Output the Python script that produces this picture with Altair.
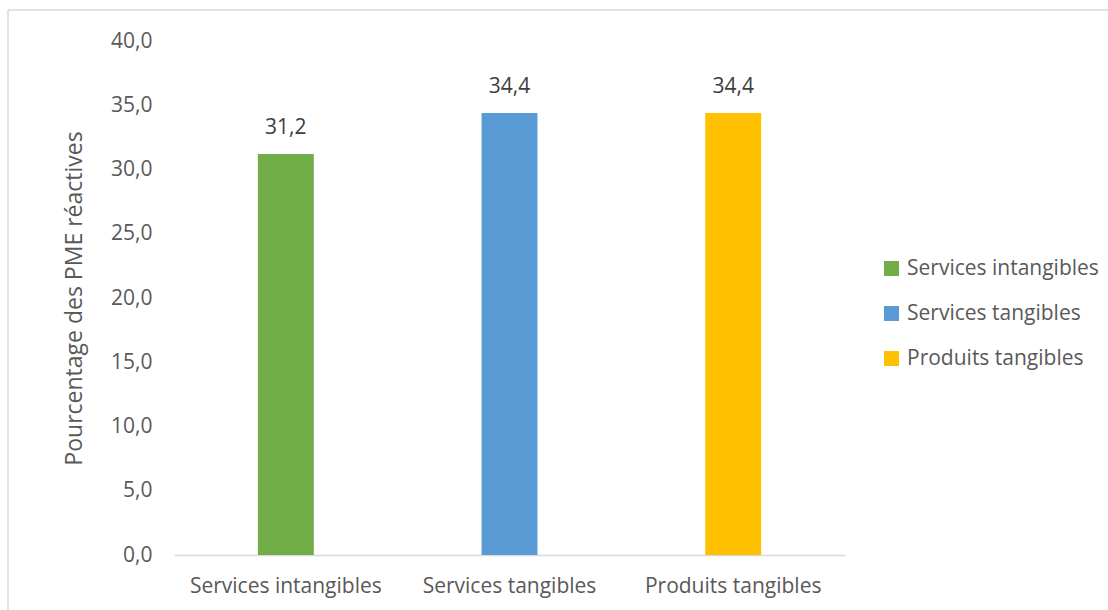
import altair as alt
import pandas as pd

categories = ["Services intangibles", "Services tangibles", "Produits tangibles"]
values = [31.2, 34.4, 34.4]
colors = ["#70AD47", "#5B9BD5", "#FFC000"]
y_ticks = [0, 5, 10, 15, 20, 25, 30, 35, 40]

df = pd.DataFrame({"cat": categories, "val": values})

FONT = "Open Sans"
TXT = "#595959"
FS = 21

x_enc = alt.X("cat:N", sort=categories, title=None,
              scale=alt.Scale(paddingInner=0.75, paddingOuter=0.375),
              axis=alt.Axis(labelAngle=0, ticks=False, domainColor="#D9D9D9", domainWidth=1.5,
                            labelPadding=31, labelFontSize=FS, labelColor=TXT, labelFont=FONT,
                            labelBaseline="middle", labelLimit=300))
y_enc = alt.Y("val:Q", title="Pourcentage des PME réactives",
              scale=alt.Scale(domain=[0, 40], nice=False),
              axis=alt.Axis(values=y_ticks, grid=False, domain=False, ticks=False,
                            labelExpr="replace(format(datum.value, '.1f'), '.', ',')",
                            labelPadding=22, labelFontSize=FS, labelColor=TXT, labelFont=FONT,
                            titleFontSize=23, titleFontWeight="normal", titleColor=TXT,
                            titleFont=FONT, titlePadding=24))

bars = alt.Chart(df).mark_bar().encode(
    x=x_enc, y=y_enc,
    color=alt.Color("cat:N", sort=categories, title=None,
                    scale=alt.Scale(domain=categories, range=colors),
                    legend=alt.Legend(orient="none", legendX=707, legendY=217,
                                      symbolType="square", symbolSize=225,
                                      symbolStrokeWidth=0, rowPadding=23,
                                      labelFontSize=FS, labelColor=TXT, labelFont=FONT,
                                      labelOffset=5, labelLimit=300))
)

labels = alt.Chart(df).transform_calculate(
    lab="replace(format(datum.val, '.1f'), '.', ',')"
).mark_text(baseline="middle", dy=-26, fontSize=FS, color="#404040", font=FONT).encode(
    x=alt.X("cat:N", sort=categories), y="val:Q", text="lab:N"
)

border_data = alt.Data(values=[{"a": 1}])
top_border = alt.Chart(border_data).mark_rule(color="#D9D9D9", strokeWidth=1.5).encode(
    x=alt.value(-166), x2=alt.value(940), y=alt.value(-31))
left_border = alt.Chart(border_data).mark_rule(color="#D9D9D9", strokeWidth=1.5).encode(
    x=alt.value(-166), y=alt.value(-31), y2=alt.value(580))

chart = alt.layer(bars, labels, top_border, left_border).properties(
    width=671, height=514,
    autosize=alt.AutoSizeParams(type="none"),
    padding={"left": 174, "top": 41, "right": 263, "bottom": 55},
    background="white",
).configure_view(stroke=None)

chart.save("out.html", embed_options={"renderer": "svg", "actions": False})
